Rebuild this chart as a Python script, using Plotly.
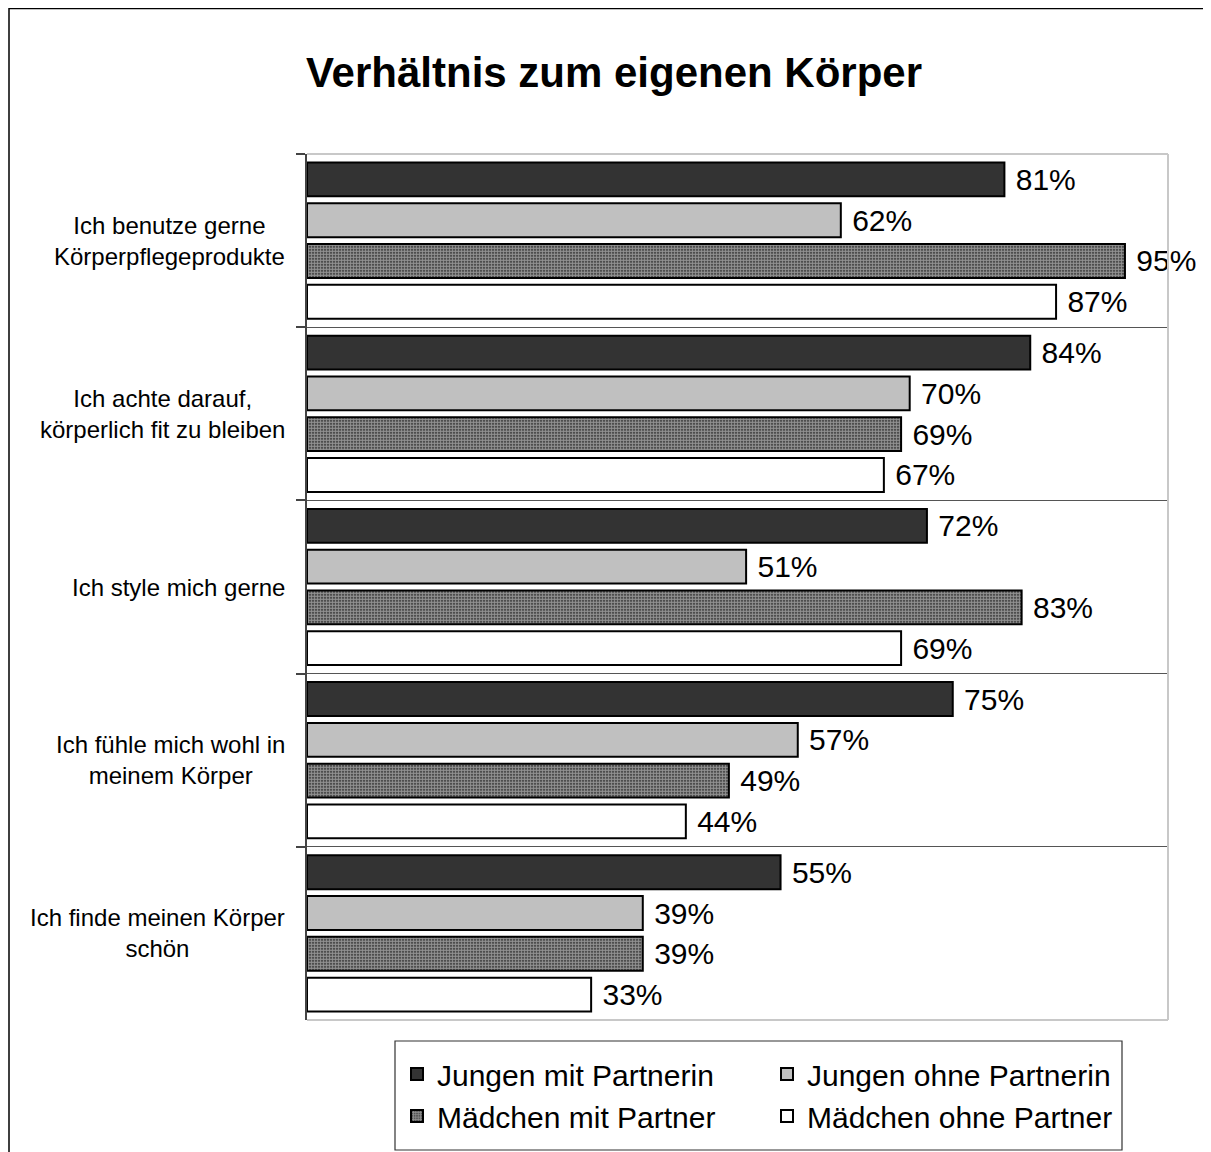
import plotly.graph_objects as go

categories = [
    "Ich benutze gerne<br>Körperpflegeprodukte",
    "Ich achte darauf,<br>körperlich fit zu bleiben",
    "Ich style mich gerne",
    "Ich fühle mich wohl in<br>meinem Körper",
    "Ich finde meinen Körper<br>schön",
]
series_names = ["Jungen mit Partnerin", "Jungen ohne Partnerin", "Mädchen mit Partner", "Mädchen ohne Partner"]
jungen_mit = [81, 84, 72, 75, 55]
jungen_ohne = [62, 70, 51, 57, 39]
maedchen_mit = [95, 69, 83, 49, 39]
maedchen_ohne = [87, 67, 69, 44, 33]
title_text = "Verhältnis zum eigenen Körper"

FONT = "Liberation Sans, Arial, sans-serif"
OFF = 8  # default page margin of the browser
W, H = 1211 - OFF, 1152 - OFF
ML, MT = 307 - OFF, 154 - OFF
MR, MB = 43, 132
PW, PH = W - ML - MR, H - MT - MB

fig = go.Figure()
styles = [
    dict(color="#333333"),
    dict(color="#c0c0c0"),
    dict(color="#222222", pattern=dict(shape=".", fgcolor="white", bgcolor="#222222", size=3, solidity=0.72)),
    dict(color="white"),
]
for name, vals, st in zip(series_names, [jungen_mit, jungen_ohne, maedchen_mit, maedchen_ohne], styles):
    fig.add_trace(go.Bar(
        name=name, y=categories, x=vals, orientation="h",
        marker=dict(line=dict(color="black", width=2), **st),
        text=vals, texttemplate="\u00a0%{x}%", textposition="outside",
        textfont=dict(family=FONT, size=30, color="black"),
        cliponaxis=False, constraintext="none",
    ))

annotations = []
for c in categories:
    annotations.append(dict(
        x=0, xref="paper", xshift=-20, y=c, yref="y", text=c, showarrow=False,
        xanchor="right", align="center", font=dict(family=FONT, size=24, color="black"),
    ))

# helpers: screen pixel (reference image coords) -> paper coords
def px_x(x):
    return (x - OFF - ML) / PW

def px_y(y):
    return (H - MB - (y - OFF)) / PH

shapes = [
    dict(type="line", xref="paper", yref="paper", x0=0, x1=1, y0=1, y1=1, line=dict(color="#c8c8c8", width=2), layer="above"),
    dict(type="line", xref="paper", yref="paper", x0=1, x1=1, y0=0, y1=1, line=dict(color="#c8c8c8", width=2), layer="above"),
    dict(type="line", xref="paper", yref="paper", x0=0, x1=1, y0=0, y1=0, line=dict(color="#c8c8c8", width=2), layer="above"),
    # outer chart border
    dict(type="rect", xref="paper", yref="paper", x0=px_x(9), x1=px_x(1240), y0=px_y(1180), y1=px_y(8.5),
         line=dict(color="black", width=1.5), layer="above"),
    # legend box
    dict(type="rect", xref="paper", yref="paper", x0=px_x(395), x1=px_x(1122), y0=px_y(1150), y1=px_y(1041),
         line=dict(color="#333333", width=1.2), layer="below"),
]

fig.update_layout(
    width=W, height=H,
    margin=dict(l=ML, r=MR, t=MT, b=MB, autoexpand=False),
    paper_bgcolor="white", plot_bgcolor="white",
    barmode="group", bargap=0.058, bargroupgap=0.17,
    title=dict(text="<b>" + title_text + "</b>", x=(614 - OFF) / W, xanchor="center", y=1 - (72 - OFF) / H,
               yanchor="middle", xref="container", yref="container",
               font=dict(family=FONT, size=42, color="black")),
    xaxis=dict(range=[0, 100], visible=False, fixedrange=True),
    yaxis=dict(autorange="reversed", type="category", tickson="boundaries", ticks="outside", ticklen=9,
               tickcolor="#444444", tickwidth=1.5, showticklabels=False, showgrid=True, gridcolor="#555555",
               gridwidth=1, showline=True, linecolor="#444444", linewidth=2, zeroline=False),
    legend=dict(orientation="h", x=px_x(397), xanchor="left", y=px_y(1048), yanchor="top",
                entrywidth=325, entrywidthmode="pixels", traceorder="normal",
                borderwidth=0, bgcolor="rgba(0,0,0,0)",
                font=dict(family=FONT, size=30, color="black")),
    annotations=annotations, shapes=shapes,
    font=dict(family=FONT, color="black"),
    showlegend=True,
)

fig.write_html("out.html")
